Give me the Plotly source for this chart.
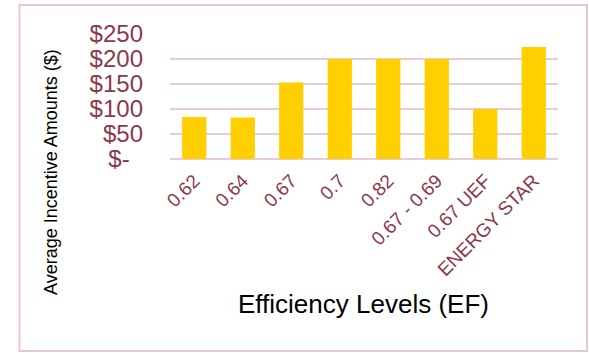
import plotly.graph_objects as go

# Average incentive amounts by efficiency level
levels = ["0.62", "0.64", "0.67", "0.7", "0.82", "0.67 - 0.69", "0.67 UEF", "ENERGY STAR"]
incentives = [84, 83, 153, 200, 200, 200, 100, 224]

y_ticks = [0, 50, 100, 150, 200, 250]
y_tick_text = ["$-\u00a0\u00a0", "$50", "$100", "$150", "$200", "$250"]

label_color = "#8B3A4A"
grid_color = "#E8CCD3"
bar_color = "#FFCF00"

W, H = 589, 353
L, R, T, B = 170, 31, 34, 194
pw, ph = W - L - R, H - T - B


def px_x(px):
    return (px - L) / pw


def px_y(py):
    return (H - B - py) / ph


fig = go.Figure(
    go.Bar(
        x=levels,
        y=incentives,
        marker=dict(color=bar_color, line=dict(width=0)),
    )
)

fig.update_layout(
    width=W,
    height=H,
    margin=dict(l=L, r=R, t=T, b=B),
    paper_bgcolor="white",
    plot_bgcolor="white",
    bargap=0.5,
    showlegend=False,
    font=dict(family="Liberation Sans, Arial, sans-serif"),
    xaxis=dict(
        tickangle=-45,
        tickfont=dict(size=19, color=label_color),
        showgrid=False,
        showline=False,
        zeroline=False,
        ticks="",
        ticklabelstandoff=6,
    ),
    yaxis=dict(
        range=[0, 250],
        tickvals=y_ticks,
        ticktext=y_tick_text,
        tickfont=dict(size=24, color=label_color),
        showgrid=True,
        gridcolor=grid_color,
        gridwidth=2,
        zeroline=True,
        zerolinecolor=grid_color,
        zerolinewidth=2,
        showline=False,
        ticks="",
        ticklabelstandoff=26,
    ),
    annotations=[
        dict(
            text="Average Incentive Amounts ($)",
            xref="paper", yref="paper",
            x=px_x(51), y=px_y(172),
            textangle=-90,
            showarrow=False,
            font=dict(size=18, color="black"),
            xanchor="center", yanchor="middle",
        ),
        dict(
            text="Efficiency Levels (EF)",
            xref="paper", yref="paper",
            x=px_x(363), y=px_y(304),
            showarrow=False,
            font=dict(size=26, color="black"),
            xanchor="center", yanchor="middle",
        ),
    ],
    shapes=[
        dict(
            type="rect",
            xref="paper", yref="paper",
            x0=px_x(19.5), x1=px_x(587),
            y0=px_y(351), y1=px_y(5),
            line=dict(color="#E6C8CF", width=2),
            fillcolor="rgba(0,0,0,0)",
            layer="below",
        )
    ],
)

fig.write_html("out.html")
